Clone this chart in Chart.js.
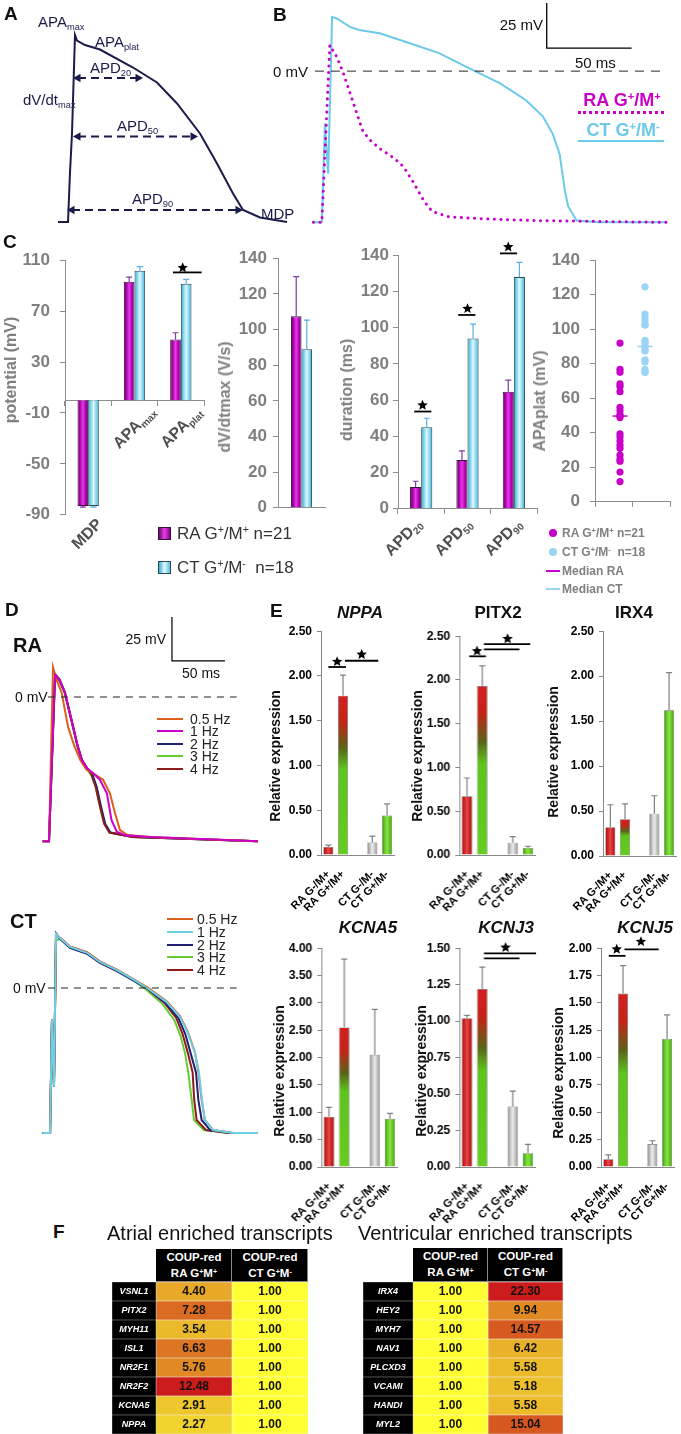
<!DOCTYPE html>
<html>
<head>
<meta charset="utf-8">
<script src="https://cdn.jsdelivr.net/npm/chart.js@4.4.0/dist/chart.umd.min.js"></script>
<style>
body{margin:0;background:#fff}
#page{position:relative;width:681px;height:1434px;overflow:hidden;font-family:'Liberation Sans',Arial,sans-serif;color:#111}
#page canvas{position:absolute}
#page div{z-index:2}
.sb{font-size:62%;vertical-align:-0.3em}
.sp{font-size:62%;vertical-align:0.5em}
</style>
</head>
<body>
<div id="page"></div>
<script>
// ---------- A: schematic action potential (ms, mV) ----------
const schemT = [-10, 0, 2, 4, 6, 7, 9, 17, 32, 65, 89, 109, 132, 149, 165, 175, 192, 219];
const schemV = [-88, -88, -55, -29, 15, 36.7, 33, 30, 27, 15, 5, -9, -29, -49, -69, -80, -85, -88];
const apdLevel = [8, -31, -80];
const apdStart = [10, 10, 4];
const apdEnd = [70, 125, 170];

// ---------- B: representative traces [ms, mV] ----------
const bRA = [[-5,-84],[0,-84],[4.7,14.4],[8.8,7.8],[12.4,-0.5],[16.5,-12],[20.4,-23],[24,-33],[28,-38],[34,-43],[42,-48],[48,-53],[54,-62],[60,-72],[65,-78],[75,-81],[95,-82],[124,-83],[203,-84]];
const bCT = [[-5,-84],[0,-84],[1.8,-29],[3.7,-57],[6,30],[8.6,29.4],[16.5,24.6],[22,22.8],[34,21],[50,16],[69,10],[89,0.6],[105,-6.8],[120,-16],[130,-25],[136,-35],[140,-46],[143,-66],[145,-75],[150,-83],[163,-84],[203,-84]];

// ---------- C: AP parameters ----------
const potCats = ['MDP', 'APAmax', 'APAplat'];
const potRA = [-83, 93, 47.8];
const potRAerr = [1, 3.7, 5.2];
const potCT = [-83, 101.8, 91.5];
const potCTerr = [1, 3.2, 3.5];
const dvdtRA = [107.4];
const dvdtRAerr = [22.3];
const dvdtCT = [89];
const dvdtCTerr = [16.3];
const apdCats = ['APD20', 'APD50', 'APD90'];
const apdRA = [12, 27, 64.6];
const apdRAerr = [3.2, 5, 6.4];
const apdCT = [45, 94, 128];
const apdCTerr = [5, 8, 8];
const plateauRA = [92, 76.8, 75, 68.3, 66.8, 63.8, 54.7, 52.7, 50.6, 49.7, 48.8, 39.4, 37.6, 35.2, 32.9, 31, 27, 24.7, 23.5, 17.2, 11.7];
const plateauCT = [124.6, 108.7, 106.6, 104.4, 102.4, 102.4, 93.6, 92.1, 92.1, 90, 89.8, 87.6, 87.6, 82.2, 81, 76.8, 75, 75];
const medianRA = 49.7;
const medianCT = 90;

// ---------- D: pacing frequency traces [ms, mV] ----------
const freqs = ['0.5 Hz', '1 Hz', '2 Hz', '3 Hz', '4 Hz'];
const raHz05 = [[-6,-82],[0,-82],[3.8,17],[7,10],[12,2.3],[18,-17],[24,-28],[29.5,-35.8],[35,-41],[40.5,-43],[51,-47],[57.5,-54.7],[62.3,-66],[67,-75.6],[74,-78.4],[95,-79.5],[197,-82]];
const raHz1 = [[-6,-82],[0,-82],[5.7,12.5],[10,9.5],[15,2.3],[22.7,-17],[27,-28],[31,-35.8],[36,-40.5],[42,-43.5],[48,-47],[54.6,-54.7],[59,-70],[64,-76.5],[72,-78.6],[95,-79.5],[197,-82]];
const raHz2 = [[-6,-82],[0,-82],[5.7,12.5],[10,9.5],[15,2.3],[22.7,-17],[27,-28],[31,-35.8],[36,-40.5],[41,-44],[45,-51],[49,-62],[53,-72],[58,-77],[79,-79.5],[197,-82]];
const raHz3 = [[-6,-82],[0,-82],[5.7,12],[10,9],[15,1.8],[22.7,-17.5],[27,-29],[31,-36.5],[35.5,-41],[40,-44.5],[44,-51],[48,-62],[52,-72],[57,-77],[79,-79.5],[197,-82]];
const raHz4 = [[-6,-82],[0,-82],[5.7,13],[10,10],[15,2.8],[22.7,-16.5],[27,-27.5],[31,-35.5],[36,-40.5],[40,-44],[44,-51],[48,-62],[52,-72],[57,-77],[79,-79.5],[197,-82]];
const ctHz05 = [[-6,-82.4],[1,-82.4],[2.8,-18],[4.7,-56],[6.6,30.7],[10.4,28.6],[19.8,23.6],[35.8,20.3],[48,15.1],[64,10.5],[79,5.2],[92.5,0.5],[111,-7.5],[123.6,-16],[131,-25],[137.7,-36.5],[141,-48],[144,-63.6],[147,-75],[155,-80.7],[174,-82.4],[197,-82.4]];
const ctHz1 = [[-6,-82.4],[1,-82.4],[2.8,-18],[4.7,-56],[6.6,30.7],[10.4,28.4],[19.8,23.3],[35.8,20],[48,14.8],[64,10.2],[79,5],[92.5,0],[111,-8],[123.6,-16.5],[131,-25.6],[137.7,-37],[141.5,-48],[144.3,-63.6],[147,-75],[154.7,-80.7],[173.6,-82.4],[197,-82.4]];
const ctHz2 = [[-6,-82.4],[1,-82.4],[2.8,-18],[4.7,-56],[6.6,31],[10.4,28],[19.8,22.8],[35.8,19.5],[48,14.2],[64,9.6],[79,4.4],[92,0],[110,-8.5],[122,-17],[128.5,-26],[133.6,-37],[138.7,-48],[140.9,-63.6],[144,-75],[152,-80.7],[172,-82.4],[197,-82.4]];
const ctHz3 = [[-6,-82.4],[1,-82.4],[2.8,-18],[4.7,-56],[6.6,27],[10.4,28],[19.8,23],[35.8,19.8],[48,14.5],[64,9.8],[79,4.5],[91,-0.5],[107,-9],[118,-18],[124,-27],[128.3,-37],[131.4,-48],[134.6,-63.6],[136.8,-75],[146,-80.7],[168,-82.4],[197,-82.4]];
const ctHz4 = [[-6,-82.4],[1,-82.4],[2.8,-18],[4.7,-56],[6.6,30],[10.4,28.5],[19.8,23.5],[35.8,20.2],[48,15],[64,10.3],[79,5],[92,0],[109,-8.5],[120,-17],[126,-26],[131,-37],[135.5,-48],[137,-63.6],[139.3,-75],[148,-80.7],[170,-82.4],[197,-82.4]];

// ---------- E: relative expression ----------
const eGroups = ['RA G-/M+', 'RA G+/M+', '', 'CT G-/M-', 'CT G+/M-'];
const nppa = [0.09, 1.78, null, 0.14, 0.44];
const nppaErr = [0.02, 0.23, null, 0.07, 0.13];
const pitx2 = [0.67, 1.93, null, 0.14, 0.08];
const pitx2Err = [0.21, 0.23, null, 0.07, 0.02];
const irx4 = [0.32, 0.41, null, 0.47, 1.62];
const irx4Err = [0.25, 0.17, null, 0.2, 0.42];
const kcna5 = [0.92, 2.55, null, 2.05, 0.88];
const kcna5Err = [0.17, 1.25, null, 0.83, 0.1];
const kcnj3 = [1.02, 1.22, null, 0.415, 0.095];
const kcnj3Err = [0.02, 0.15, null, 0.105, 0.06];
const kcnj5 = [0.07, 1.585, null, 0.21, 1.17];
const kcnj5Err = [0.04, 0.255, null, 0.03, 0.22];

// ---------- F: fold enrichment tables ----------
const atrialGenes = ['VSNL1', 'PITX2', 'MYH11', 'ISL1', 'NR2F1', 'NR2F2', 'KCNA5', 'NPPA'];
const atrialRA = [4.40, 7.28, 3.54, 6.63, 5.76, 12.48, 2.91, 2.27];
const atrialCT = [1, 1, 1, 1, 1, 1, 1, 1];
const ventGenes = ['IRX4', 'HEY2', 'MYH7', 'NAV1', 'PLCXD3', 'VCAMI', 'HANDI', 'MYL2'];
const ventRA = [1, 1, 1, 1, 1, 1, 1, 1];
const ventCT = [22.30, 9.94, 14.57, 6.42, 5.58, 5.18, 5.58, 15.04];

Chart.defaults.font.family = "'Liberation Sans', Arial, sans-serif";
Chart.defaults.animation = false;
Chart.defaults.responsive = false;
Chart.defaults.events = [];
Chart.defaults.plugins.legend.display = false;
Chart.defaults.plugins.tooltip.enabled = false;

const page = document.getElementById('page');

function cv(x, y, w, h) {
  const c = document.createElement('canvas');
  c.width = w; c.height = h;
  c.style.left = x + 'px'; c.style.top = y + 'px';
  c.style.width = w + 'px'; c.style.height = h + 'px';
  page.appendChild(c);
  return c.getContext('2d');
}

function lab(html, x, y, css, align, rot) {
  const d = document.createElement('div');
  d.innerHTML = html;
  const tx = align === 'c' ? '-50%' : align === 'r' ? '-100%' : '0';
  d.style.cssText = 'position:absolute;white-space:nowrap;line-height:1;left:' + x + 'px;top:' + y + 'px;transform:translate(' + tx + ',-50%)' + (rot ? ' rotate(' + rot + 'deg)' : '') + ';' + (css || '');
  page.appendChild(d);
}

function box(x, y, w, h, css) {
  const d = document.createElement('div');
  d.style.cssText = 'position:absolute;left:' + x + 'px;top:' + y + 'px;width:' + w + 'px;height:' + h + 'px;' + css;
  page.appendChild(d);
}

const pts = arr => arr.map(p => ({ x: p[0], y: p[1] }));
function line(points, color, width, extra) {
  return Object.assign({ data: pts(points), showLine: true, borderColor: color, borderWidth: width, pointRadius: 0, tension: 0, clip: false }, extra || {});
}
function traceChart(ctx, datasets, xr, yr, pad) {
  return new Chart(ctx, {
    type: 'scatter',
    data: { datasets },
    options: {
      layout: { padding: pad },
      scales: {
        x: { type: 'linear', display: false, min: xr[0], max: xr[1] },
        y: { type: 'linear', display: false, min: yr[0], max: yr[1] }
      }
    }
  });
}

// bar shading, error bars, significance marks
function hGrad(ctx, p, stops) {
  const g = ctx.createLinearGradient(p.x - p.width / 2, 0, p.x + p.width / 2, 0);
  stops.forEach((c, i) => g.addColorStop(i / (stops.length - 1), c));
  return g;
}
const shadePlugin = {
  id: 'shade',
  beforeDatasetDraw(chart, args) {
    const ds = chart.data.datasets[args.index];
    if (!ds.shade) return;
    args.meta.data.forEach((el, i) => {
      if (ds.data[i] == null) return;
      const p = el.getProps(['x', 'y', 'base', 'width'], true);
      const g = ds.shade(chart.ctx, p, i);
      if (g) el.options = Object.assign({}, el.options, { backgroundColor: g });
    });
  }
};
const errPlugin = {
  id: 'err',
  afterDatasetsDraw(chart) {
    const ctx = chart.ctx;
    chart.data.datasets.forEach((ds, di) => {
      if (!ds.err) return;
      const meta = chart.getDatasetMeta(di);
      const ys = chart.scales[meta.yAxisID];
      meta.data.forEach((el, i) => {
        const v = ds.data[i], e = ds.err[i];
        if (v == null || e == null) return;
        const y0 = ys.getPixelForValue(v), y1 = ys.getPixelForValue(v + (v < 0 ? -e : e));
        ctx.save();
        ctx.strokeStyle = ds.errColor; ctx.lineWidth = 1.2;
        ctx.beginPath();
        ctx.moveTo(el.x, y0); ctx.lineTo(el.x, y1);
        ctx.moveTo(el.x - 3, y1); ctx.lineTo(el.x + 3, y1);
        ctx.stroke();
        ctx.restore();
      });
    });
  }
};
function star(ctx, cx, cy, r) {
  ctx.beginPath();
  for (let k = 0; k < 10; k++) {
    const a = -Math.PI / 2 + k * Math.PI / 5, rr = k % 2 ? r * 0.45 : r;
    ctx.lineTo(cx + rr * Math.cos(a), cy + rr * Math.sin(a));
  }
  ctx.closePath();
  ctx.fill();
}
function sigPlugin(marks) {
  return {
    id: 'sig',
    afterDatasetsDraw(chart) {
      const { ctx, scales: { x, y } } = chart;
      ctx.save();
      ctx.strokeStyle = '#000'; ctx.fillStyle = '#000'; ctx.lineWidth = 1.8;
      marks.forEach(m => {
        const yy = y.getPixelForValue(m[2]);
        ctx.beginPath();
        ctx.moveTo(x.getPixelForValue(m[0]), yy);
        ctx.lineTo(x.getPixelForValue(m[1]), yy);
        ctx.stroke();
        if (m.length > 3) star(ctx, x.getPixelForValue(m[3]), y.getPixelForValue(m[4]), 5.5);
      });
      ctx.restore();
    }
  };
}

const ink = '#1b1b4b';
const magenta = '#c800c8';
const sky = '#6cc9ea';

// ================= A =================
traceChart(cv(0, 0, 300, 230), [
  { data: schemT.map((t, i) => ({ x: t, y: schemV[i] })), showLine: true, borderColor: ink, borderWidth: 2, pointRadius: 0, clip: false },
  ...apdLevel.map((v, i) => ({
    data: [{ x: apdStart[i], y: v }, { x: apdEnd[i], y: v }], showLine: true, borderColor: ink, borderWidth: 2, borderDash: [8, 5],
    pointStyle: 'triangle', pointRadius: 5, pointRotation: [-90, 90], pointBackgroundColor: ink, pointBorderWidth: 0, clip: false
  }))
], [-15, 225], [-90, 40], { left: 53, top: 30, right: 7, bottom: 5 });

const aCss = 'font-size:15px;color:' + ink + ';';
lab('A', 4, 13, 'font-size:19px;font-weight:bold;');
lab('APA<span class="sb">max</span>', 38, 23, aCss);
lab('APA<span class="sb">plat</span>', 95, 43, aCss);
lab('APD<span class="sb">20</span>', 90, 69, aCss);
lab('dV/dt<span class="sb">max</span>', 23, 101, aCss);
lab('APD<span class="sb">50</span>', 117, 127, aCss);
lab('APD<span class="sb">90</span>', 132, 200, aCss);
lab('MDP', 261, 213, aCss);

// ================= B =================
traceChart(cv(260, 0, 421, 230), [
  line([[-4.1, 0], [201.8, 0]], '#222', 1, { borderDash: [9, 7] }),
  line([[132.4, 37.8], [132.4, 12.8], [182.4, 12.8]], '#000', 1.3),
  line(bRA, magenta, 3, { borderDash: [0.1, 6.5], borderCapStyle: 'round' }),
  line(bCT, sky, 2)
], [-7, 205], [-88.25, 39.5], { left: 50, right: 11, top: 0, bottom: 0 });

lab('B', 273, 14, 'font-size:19px;font-weight:bold;');
lab('0 mV', 273, 71, 'font-size:15px;');
lab('25 mV', 543, 24, 'font-size:15px;', 'r');
lab('50 ms', 575, 62, 'font-size:15px;');
lab('RA G<span class="sp">+</span>/M<span class="sp">+</span>', 622, 100, 'font-size:18px;font-weight:bold;color:' + magenta + ';', 'c');
box(578, 111, 86, 0, 'border-top:3px dotted ' + magenta + ';');
lab('CT G<span class="sp">+</span>/M<span class="sp">-</span>', 623, 130, 'font-size:18px;font-weight:bold;color:' + sky + ';', 'c');
box(578, 140, 86, 2, 'background:' + sky + ';');

// ================= C =================
const gray = '#8c8c8c';
const cTick = { color: '#7f7f7f', font: { size: 17, weight: 'bold' } };
const raFill = ['#5a085a', '#b000b0', '#e43ee4', '#b800b8', '#6a0a6a'];
const ctFill = ['#2f9fc0', '#7fd6ee', '#e2f7fd', '#86d8ef', '#3aaed0'];
const raDs = (data, err) => ({ data, err, errColor: '#7a3aa8', backgroundColor: '#b000b0', borderColor: '#3a103a', borderWidth: 1, shade: (c, p) => hGrad(c, p, raFill) });
const ctDs = (data, err) => ({ data, err, errColor: '#5aaeea', backgroundColor: '#7fd6ee', borderColor: '#2a4a58', borderWidth: 1, shade: (c, p) => hGrad(c, p, ctFill) });
const yGrid = { drawOnChartArea: false, tickLength: 5, color: gray };

new Chart(cv(0, 240, 208, 295), {
  type: 'bar',
  data: { labels: potCats, datasets: [raDs(potRA, potRAerr), ctDs(potCT, potCTerr)] },
  options: {
    layout: { padding: { top: 12, bottom: 12, right: 4 } },
    datasets: { bar: { categoryPercentage: 0.46, barPercentage: 1 } },
    scales: {
      x: { position: { y: 0 }, ticks: { display: false }, grid: { drawOnChartArea: false, tickLength: 5, color: gray }, border: { color: gray } },
      y: { min: -90, max: 110, ticks: Object.assign({ stepSize: 40, padding: 10 }, cTick), grid: yGrid, border: { color: gray }, afterFit: s => { s.width = 65; } }
    }
  },
  plugins: [shadePlugin, errPlugin, sigPlugin([[1.83, 2.45, 100.4, 2.04, 104]])]
});

new Chart(cv(228, 242, 100, 282), {
  type: 'bar',
  data: { labels: [''], datasets: [raDs(dvdtRA, dvdtRAerr), ctDs(dvdtCT, dvdtCTerr)] },
  options: {
    layout: { padding: { top: 12, bottom: 12, right: 3 } },
    datasets: { bar: { categoryPercentage: 0.45, barPercentage: 1 } },
    scales: {
      x: { ticks: { display: false }, grid: { display: false }, border: { color: gray }, afterFit: s => { s.height = 0; } },
      y: { min: 0, max: 140, ticks: Object.assign({ stepSize: 20, padding: 6 }, cTick), grid: yGrid, border: { color: gray }, afterFit: s => { s.width = 50; } }
    }
  },
  plugins: [shadePlugin, errPlugin]
});

new Chart(cv(348, 241, 192, 282), {
  type: 'bar',
  data: { labels: apdCats, datasets: [raDs(apdRA, apdRAerr), ctDs(apdCT, apdCTerr)] },
  options: {
    layout: { padding: { top: 12, bottom: 12, right: 3 } },
    datasets: { bar: { categoryPercentage: 0.48, barPercentage: 1 } },
    scales: {
      x: { ticks: { display: false }, grid: { drawOnChartArea: false, tickLength: 5, color: gray }, border: { color: gray }, afterFit: s => { s.height = 0; } },
      y: { min: 0, max: 140, ticks: Object.assign({ stepSize: 20, padding: 4 }, cTick), grid: yGrid, border: { color: gray }, afterFit: s => { s.width = 50; } }
    }
  },
  plugins: [shadePlugin, errPlugin, sigPlugin([
    [-0.15, 0.22, 53.7, 0.03, 57.2],
    [0.8, 1.17, 107, 1.0, 110.5],
    [1.7, 2.07, 141, 1.88, 144.5]
  ])]
});

new Chart(cv(545, 240, 130, 282), {
  type: 'scatter',
  data: { datasets: [
    line([[0.7, medianRA], [1.3, medianRA]], magenta, 1.5),
    line([[1.7, medianCT], [2.3, medianCT]], '#9ad4f6', 1.5),
    { data: plateauRA.map(v => ({ x: 1, y: v })), backgroundColor: magenta, pointRadius: 3.6, pointBorderWidth: 0 },
    { data: plateauCT.map(v => ({ x: 2, y: v })), backgroundColor: '#9ad4f6', pointRadius: 3.6, pointBorderWidth: 0 }
  ] },
  options: {
    layout: { padding: { top: 12, bottom: 12, right: 5 } },
    scales: {
      x: { type: 'linear', min: 0, max: 3, ticks: { display: false, stepSize: 1.5 }, grid: { drawOnChartArea: false, tickLength: 5, color: gray }, border: { color: gray }, afterFit: s => { s.height = 0; } },
      y: { min: 0, max: 140, ticks: Object.assign({ stepSize: 20, padding: 10 }, cTick), grid: yGrid, border: { color: gray }, afterFit: s => { s.width = 50; } }
    }
  }
});

lab('C', 3, 241, 'font-size:19px;font-weight:bold;');
const cTitle = 'font-size:16px;font-weight:bold;color:#7f7f7f;';
lab('potential (mV)', 11, 370, cTitle, 'c', -90);
lab('dV/dtmax (V/s)', 225, 397, cTitle, 'c', -90);
lab('duration (ms)', 347, 390, cTitle, 'c', -90);
lab('APAplat (mV)', 540, 401, cTitle, 'c', -90);
const cCat = 'font-size:16px;font-weight:bold;color:#505050;';
lab('MDP', 87, 534, cCat, 'c', -45);
lab('APA<span class="sb">max</span>', 135, 428, cCat, 'c', -45);
lab('APA<span class="sb">plat</span>', 182, 428, cCat, 'c', -45);
lab('APD<span class="sb">20</span>', 404, 538, cCat, 'c', -45);
lab('APD<span class="sb">50</span>', 454, 538, cCat, 'c', -45);
lab('APD<span class="sb">90</span>', 504, 538, cCat, 'c', -45);
box(158, 527, 11, 11, 'background:linear-gradient(90deg,#6a0a6a,#e43ee4,#8a008a);border:1px solid #3a103a;');
lab('RA G<span class="sp">+</span>/M<span class="sp">+</span> n=21', 177, 533, 'font-size:17px;color:#333;');
box(158, 561, 11, 11, 'background:linear-gradient(90deg,#3aaed0,#e2f7fd,#5ac0e0);border:1px solid #2a4a58;');
lab('CT G<span class="sp">+</span>/M<span class="sp">-</span>&nbsp; n=18', 177, 567, 'font-size:17px;color:#333;');
const sLeg = 'font-size:12px;font-weight:bold;color:#808080;';
box(549, 529, 8, 8, 'border-radius:50%;background:' + magenta + ';');
lab('RA G<span class="sp">+</span>/M<span class="sp">+</span> n=21', 562, 533, sLeg);
box(549, 548, 8, 8, 'border-radius:50%;background:#9ad4f6;');
lab('CT G<span class="sp">+</span>/M<span class="sp">-</span>&nbsp; n=18', 562, 552, sLeg);
box(546, 570, 14, 2, 'background:' + magenta + ';');
lab('Median RA', 562, 571, sLeg);
box(546, 588, 14, 2, 'background:#9ad4f6;');
lab('Median CT', 562, 589, sLeg);

// ================= D =================
const freqColRA = ['#d9601c', '#cc00cc', '#1f1f74', '#66cc33', '#8c1c1c'];
const freqColCT = ['#d9601c', '#6ccfe8', '#1f1f74', '#66cc33', '#8c1c1c'];
const raTraces = [raHz05, raHz1, raHz2, raHz3, raHz4];
const ctTraces = [ctHz05, ctHz1, ctHz2, ctHz3, ctHz4];
const dPad = { left: 38.4, right: 1, top: 9, bottom: 13.4 };

traceChart(cv(0, 600, 262, 260), [
  line([[-1, 0], [177, 0]], '#222', 1.2, { borderDash: [7, 6] }),
  line([[116, 45.5], [116, 20.5], [166, 20.5]], '#000', 1.2),
  line(raTraces[1], freqColRA[1], 2),
  line(raTraces[0], freqColRA[0], 2),
  line(raTraces[4], freqColRA[4], 2),
  line(raTraces[2], freqColRA[2], 2),
  line(raTraces[3], freqColRA[3], 2)
], [-10, 200], [-85, 50], dPad);

traceChart(cv(0, 891, 262, 260), [
  line([[-1, 0], [177, 0]], '#222', 1.2, { borderDash: [7, 6] }),
  line(ctTraces[1], freqColCT[1], 2),
  line(ctTraces[0], freqColCT[0], 2),
  line(ctTraces[2], freqColCT[2], 2),
  line(ctTraces[4], freqColCT[4], 2),
  line(ctTraces[3], freqColCT[3], 2)
], [-10, 200], [-85, 50], dPad);

lab('D', 5, 609, 'font-size:19px;font-weight:bold;');
lab('RA', 13, 645, 'font-size:20px;font-weight:bold;');
lab('CT', 10, 921, 'font-size:20px;font-weight:bold;');
lab('25 mV', 166, 639, 'font-size:14px;', 'r');
lab('50 ms', 182, 673, 'font-size:14px;');
lab('0 mV', 15, 697, 'font-size:14px;');
lab('0 mV', 13, 988, 'font-size:14px;');
freqs.forEach((f, i) => {
  box(157, 718 + i * 12.4, 26, 2, 'background:' + freqColRA[i] + ';');
  lab(f, 190, 719 + i * 12.4, 'font-size:14px;color:#222;');
  box(167, 918 + i * 12.8, 26, 2, 'background:' + freqColCT[i] + ';');
  lab(f, 197, 919 + i * 12.8, 'font-size:14px;color:#222;');
});

// ================= E =================
const eShades = [
  ['#a01414', '#d02222', '#e24a4a', '#d02222', '#a81616'],
  null,
  null,
  ['#8a8a8a', '#c2c2c2', '#ececec', '#c2c2c2', '#8e8e8e'],
  ['#3e9010', '#62c81e', '#8ee052', '#62c81e', '#46a014']
];
const eBase = ['#d02222', '#66cc22', '#000000', '#c2c2c2', '#62c81e'];
function eShade(ctx, p, i) {
  if (i === 1) {
    const g = ctx.createLinearGradient(0, p.y, 0, p.base);
    g.addColorStop(0, '#d42020');
    g.addColorStop(0.16, '#c42418');
    g.addColorStop(0.33, '#5a6418');
    g.addColorStop(0.46, '#5ec41e');
    g.addColorStop(1, '#66cc22');
    return g;
  }
  return eShades[i] ? hGrad(ctx, p, eShades[i]) : null;
}
function eChart(o) {
  const left = o.axisX - 44, top = o.top - 10;
  const w = 44 + 5 * o.slot + 6, h = 10 + (o.bottom - o.top) + 56;
  new Chart(cv(left, top, w, h), {
    type: 'bar',
    data: { labels: eGroups, datasets: [{ data: o.vals, err: o.errs, errColor: '#808080', backgroundColor: eBase, borderColor: '#666', borderWidth: 0.6, shade: eShade }] },
    options: {
      layout: { padding: { top: 10, right: 6 } },
      datasets: { bar: { barPercentage: 0.68, categoryPercentage: 1 } },
      scales: {
        x: { ticks: { color: '#000', font: { size: 11, weight: 'bold' }, minRotation: 45, maxRotation: 45, padding: 5, autoSkip: false }, grid: { display: false }, border: { color: '#888' }, afterFit: s => { s.height = 56; } },
        y: { min: 0, max: o.max, ticks: { stepSize: o.step, color: '#000', font: { size: 12, weight: 'bold' }, padding: 5, callback: v => v.toFixed(2) }, grid: { drawOnChartArea: false, tickLength: 4, color: '#888' }, border: { color: '#888' }, afterFit: s => { s.width = 44; } }
      }
    },
    plugins: [shadePlugin, errPlugin, sigPlugin(o.marks)]
  });
  lab(o.title, o.tx, o.ty, 'font-size:17px;font-weight:bold;' + (o.italic ? 'font-style:italic;' : ''), 'c');
  lab('Relative expression', o.yx, o.yy, 'font-size:14px;font-weight:bold;', 'c', -90);
}

eChart({ title: 'NPPA', italic: true, vals: nppa, errs: nppaErr, max: 2.5, step: 0.5, axisX: 320.5, top: 629, bottom: 855, slot: 15,
  marks: [[0, 1.2, 2.10, 0.6, 2.16], [1.13, 3.4, 2.17, 2.27, 2.24]], tx: 360, ty: 612, yx: 275, yy: 756 });
eChart({ title: 'PITX2', italic: false, vals: pitx2, errs: pitx2Err, max: 2.5, step: 0.5, axisX: 459, top: 634, bottom: 855, slot: 15.5,
  marks: [[0.15, 1.24, 2.27, 0.66, 2.33], [1.11, 3.44, 2.35], [1.11, 4.15, 2.41, 2.66, 2.47]], tx: 498, ty: 612, yx: 417, yy: 756 });
eChart({ title: 'IRX4', italic: false, vals: irx4, errs: irx4Err, max: 2.5, step: 0.5, axisX: 602.5, top: 629, bottom: 856, slot: 15,
  marks: [], tx: 634, ty: 612, yx: 553, yy: 752 });
eChart({ title: 'KCNA5', italic: true, vals: kcna5, errs: kcna5Err, max: 4, step: 0.5, axisX: 321, top: 946, bottom: 1167, slot: 15.5,
  marks: [], tx: 368, ty: 927, yx: 279, yy: 1071 });
eChart({ title: 'KCNJ3', italic: true, vals: kcnj3, errs: kcnj3Err, max: 1.5, step: 0.25, axisX: 459, top: 946, bottom: 1167, slot: 15.5,
  marks: [[1.11, 3.44, 1.43], [1.11, 4.53, 1.465, 2.53, 1.505]], tx: 506, ty: 927, yx: 421, yy: 1071 });
eChart({ title: 'KCNJ5', italic: true, vals: kcnj5, errs: kcnj5Err, max: 2, step: 0.25, axisX: 601, top: 946, bottom: 1167, slot: 15,
  marks: [[0.03, 1.17, 1.93, 0.57, 1.99], [1.1, 3.43, 1.99, 2.22, 2.06]], tx: 645, ty: 927, yx: 558, yy: 1073 });
lab('E', 270, 610, 'font-size:19px;font-weight:bold;');

// ================= F =================
const heatStops = [[0, [255, 255, 51]], [0.06, [242, 222, 48]], [0.3, [232, 168, 42]], [0.5, [220, 116, 34]], [0.7, [213, 80, 30]], [1, [204, 28, 28]]];
function heat(v, vmax) {
  const f = Math.max(0, Math.min(1, (v - 1) / (vmax - 1)));
  for (let k = 1; k < heatStops.length; k++) {
    if (f <= heatStops[k][0]) {
      const [f0, c0] = heatStops[k - 1], [f1, c1] = heatStops[k];
      const t = (f - f0) / (f1 - f0);
      return 'rgb(' + c0.map((c, j) => Math.round(c + (c1[j] - c) * t)).join(',') + ')';
    }
  }
  return 'rgb(204,28,28)';
}
const cellText = {
  id: 'cellText',
  afterDatasetsDraw(chart) {
    const ctx = chart.ctx;
    chart.data.datasets.forEach((ds, di) => {
      chart.getDatasetMeta(di).data.forEach((el, i) => {
        const p = el.getProps(['x', 'y', 'base'], true);
        ctx.save();
        ctx.font = ds.txtFont; ctx.fillStyle = ds.txtColor;
        ctx.textAlign = 'center'; ctx.textBaseline = 'middle';
        ctx.fillText(ds.txt[i], (p.x + p.base) / 2, p.y + 0.5);
        ctx.restore();
      });
    });
  }
};
function heatTable(genes, colA, colB, x, y, geneW, colW) {
  const vmax = Math.max(...colA, ...colB);
  const valFont = "bold 12px 'Liberation Sans', Arial, sans-serif";
  new Chart(cv(x, y, geneW + 2 * colW, genes.length * 19), {
    type: 'bar',
    data: { labels: genes, datasets: [
      { data: genes.map(() => geneW), backgroundColor: '#000', borderColor: '#9a9a9a', txt: genes, txtColor: '#fff', txtFont: "italic bold 9px 'Liberation Sans', Arial, sans-serif" },
      { data: colA.map(() => colW), backgroundColor: colA.map(v => heat(v, vmax)), borderColor: '#f4f4f4', txt: colA.map(v => v.toFixed(2)), txtColor: '#111', txtFont: valFont },
      { data: colB.map(() => colW), backgroundColor: colB.map(v => heat(v, vmax)), borderColor: '#f4f4f4', txt: colB.map(v => v.toFixed(2)), txtColor: '#111', txtFont: valFont }
    ] },
    options: {
      indexAxis: 'y',
      layout: { padding: 0 },
      datasets: { bar: { barPercentage: 1, categoryPercentage: 1, borderWidth: 0.6, borderSkipped: false } },
      scales: {
        x: { stacked: true, display: false, min: 0, max: geneW + 2 * colW },
        y: { stacked: true, display: false }
      }
    },
    plugins: [cellText]
  });
}
function heatHeader(x, y, w, h, line2) {
  box(x, y, w, h, 'background:#000;border-right:1px solid #888;border-bottom:1px solid #888;box-sizing:border-box;');
  lab('COUP-red', x + w / 2, y + 9, 'font-size:11.5px;font-weight:bold;color:#fff;', 'c');
  lab(line2, x + w / 2, y + 25, 'font-size:11.5px;font-weight:bold;color:#fff;', 'c');
}

heatTable(atrialGenes, atrialRA, atrialCT, 112, 1282, 44, 76);
heatHeader(156, 1249, 76, 33, 'RA G<span class="sp">+</span>M<span class="sp">+</span>');
heatHeader(232, 1249, 76, 33, 'CT G<span class="sp">+</span>M<span class="sp">-</span>');
heatTable(ventGenes, ventRA, ventCT, 363, 1282, 50, 75);
heatHeader(413, 1248, 75, 34, 'RA G<span class="sp">+</span>M<span class="sp">+</span>');
heatHeader(488, 1248, 75, 34, 'CT G<span class="sp">+</span>M<span class="sp">-</span>');
lab('F', 53, 1231, 'font-size:19px;font-weight:bold;');
lab('Atrial enriched transcripts', 107, 1233, 'font-size:20px;color:#111;');
lab('Ventricular enriched transcripts', 358, 1233, 'font-size:20px;color:#111;');
</script>
</body>
</html>
